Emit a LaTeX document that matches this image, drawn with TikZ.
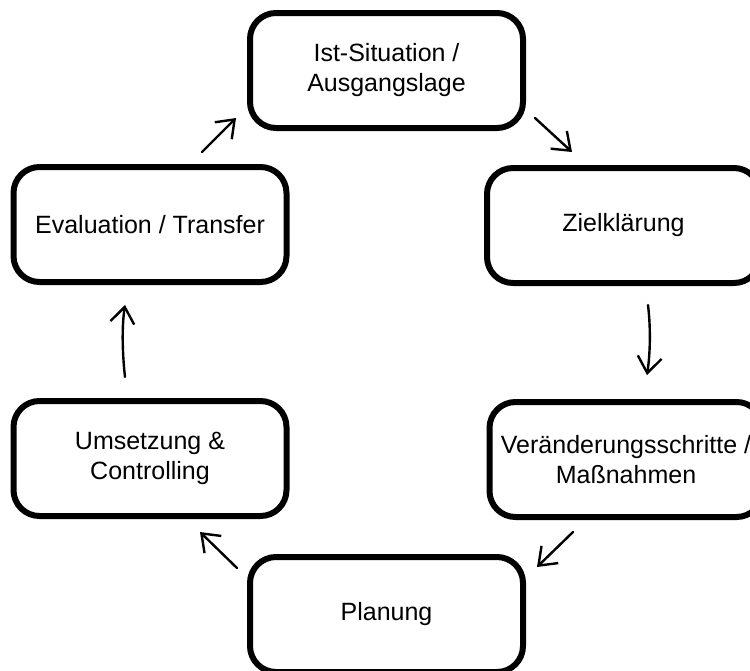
\documentclass[tikz,border=0pt]{standalone}
\usepackage{fontspec}
\setmainfont{Liberation Sans}
\usetikzlibrary{arrows.meta}
\begin{document}
\begin{tikzpicture}[x=0.5pt,y=-0.5pt,
  box/.style={draw, line width=3pt, rounded corners=13pt,
    minimum width=136.5pt, minimum height=57.5pt, align=center,
    font=\fontsize{12.5}{15}\selectfont, inner sep=0pt},
  flow/.style={line width=1.2pt, line cap=round,
    -{Straight Barb[length=8pt,width=12pt,line width=1.2pt]}}]
\useasboundingbox (0,0) rectangle (750,670);
\clip (0,0) rectangle (750,670);
\node[box] (ist)  at (386.5,70.5) {Ist-Situation /\\Ausgangslage};
\node[box] (ziel) at (623.5,225.5)  {Zielklärung};
\node[box] (ver)  at (626,459.5)  {Veränderungsschritte /\\Maßnahmen};
\node[box] (plan) at (386.5,614.5) {Planung};
\node[box] (ums)  at (150,458.5)  {Umsetzung \&\\Controlling};
\node[box] (eval) at (150,224.5)  {Evaluation / Transfer};
% connector end points
\coordinate (a1s) at (202,152); \coordinate (a1e) at (236,118);
\coordinate (a2s) at (535,118); \coordinate (a2e) at (572,152);
\coordinate (a3s) at (648,305); \coordinate (a3e) at (647,375);
\coordinate (a4s) at (573,532); \coordinate (a4e) at (537,567);
\coordinate (a5s) at (237,568); \coordinate (a5e) at (200,532);
\coordinate (a6s) at (125,377); \coordinate (a6e) at (125,305);
\draw[flow] (a1s) -- (a1e);
\draw[flow] (a2s) -- (a2e);
\draw[flow] (a3s) .. controls (651,330) and (650,355) .. (a3e);
\draw[flow] (a4s) -- (a4e);
\draw[flow] (a5s) -- (a5e);
\draw[flow] (a6s) .. controls (122,350) and (122,325) .. (a6e);
\end{tikzpicture}
\end{document}
